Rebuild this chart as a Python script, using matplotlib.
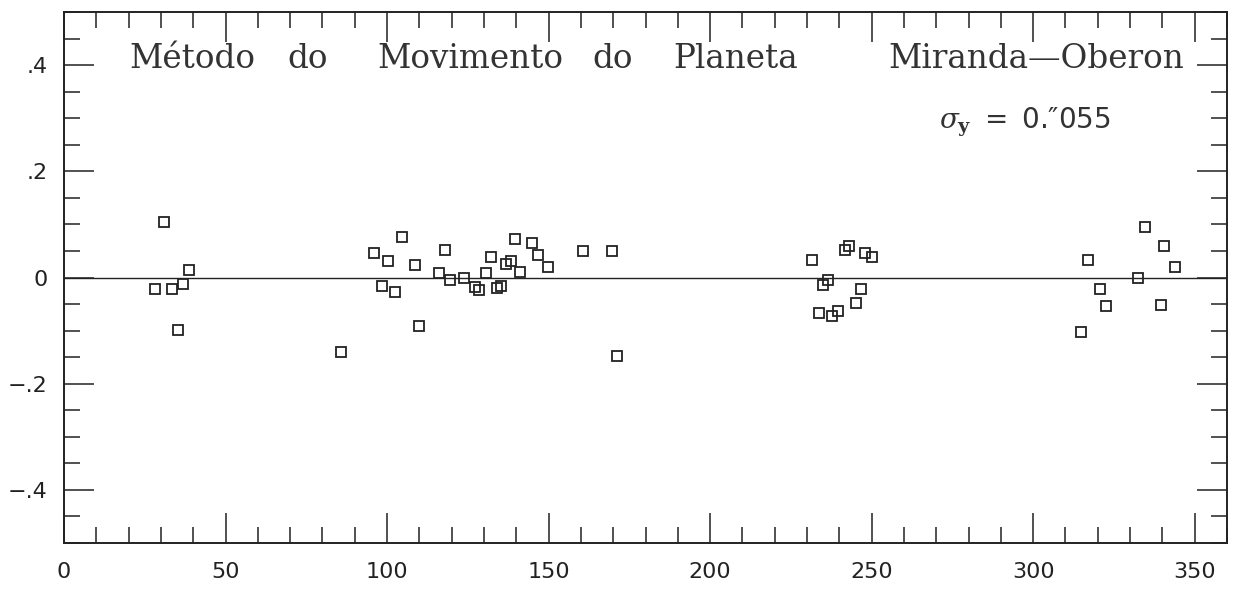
import matplotlib
matplotlib.use("Agg")
import matplotlib.pyplot as plt
from matplotlib.ticker import MultipleLocator

# residuals (arcsec) vs orbital longitude (deg)
x_vals = [31.0, 38.6, 28.1, 33.3, 36.9, 35.3, 85.8,
          104.6, 96.1, 100.4, 118.0, 108.6, 116.2, 119.6, 123.7, 98.4, 102.6, 109.8,
          127.3, 128.5, 130.6, 132.1, 133.9, 135.2, 136.8, 138.3, 141.1, 139.6, 145.0,
          146.7, 149.9, 160.7, 169.5, 171.2,
          231.5, 241.6, 243.1, 248.0, 250.0, 234.9, 236.4, 246.7, 245.2, 233.8, 237.7, 239.7,
          316.9, 334.7, 340.4, 343.9, 332.6, 320.6, 322.4, 339.6, 314.9]
y_vals = [0.104, 0.014, -0.021, -0.021, -0.013, -0.099, -0.141,
          0.076, 0.047, 0.031, 0.051, 0.023, 0.008, -0.005, -0.001, -0.016, -0.027, -0.091,
          -0.017, -0.023, 0.008, 0.039, -0.019, -0.016, 0.025, 0.032, 0.011, 0.073, 0.065,
          0.042, 0.019, 0.050, 0.050, -0.147,
          0.033, 0.052, 0.059, 0.047, 0.039, -0.014, -0.004, -0.021, -0.048, -0.067, -0.073, -0.064,
          0.033, 0.096, 0.060, 0.019, -0.001, -0.021, -0.053, -0.051, -0.103]

x_ticks = [0, 50, 100, 150, 200, 250, 300, 350]
x_labels = ["0", "50", "100", "150", "200", "250", "300", "350"]
y_ticks = [-0.4, -0.2, 0.0, 0.2, 0.4]
y_labels = ["\u2212.4", "\u2212.2", "0", ".2", ".4"]

# the original title is typed in a very wide face, so each word is set on its own
title_words = ["Método", "do", "Movimento", "do", "Planeta", "Miranda\u2014Oberon"]
word_centres = [0.110, 0.2094, 0.349, 0.4716, 0.5774, 0.836]   # axes fraction
sigma_text = r"$\sigma_{\mathbf{y}}$ $=$ 0.″055"

ink = "#222222"
plt.rcParams["mathtext.fontset"] = "dejavuserif"

fig = plt.figure(figsize=(12.39, 5.91), dpi=100)
ax = fig.add_axes([0.0517, 0.0812, 0.9386, 0.8985])

ax.axhline(0, color=ink, lw=1.0, zorder=1)
ax.plot(x_vals, y_vals, ls="none", marker="s", ms=7.5, mfc="none", mec=ink, mew=1.3, zorder=2)

ax.set_xlim(0, 360)
ax.set_ylim(-0.5, 0.5)
ax.set_xticks(x_ticks, x_labels)
ax.set_yticks(y_ticks, y_labels)
ax.xaxis.set_minor_locator(MultipleLocator(10))
ax.yaxis.set_minor_locator(MultipleLocator(0.05))
ax.tick_params(which="both", direction="in", top=True, right=True, color=ink, width=1.1)
ax.tick_params(which="major", length=21.5)
ax.tick_params(which="minor", length=11.5)
ax.tick_params(axis="x", which="major", pad=14, labelsize=16, labelcolor=ink)
ax.tick_params(axis="y", which="major", pad=12, labelsize=16, labelcolor=ink)
for s in ax.spines.values():
    s.set_linewidth(1.4)
    s.set_color(ink)

for word, xc in zip(title_words, word_centres):
    ax.text(xc, 0.8945, word, transform=ax.transAxes, fontsize=23.5,
            family="DejaVu Serif", color="#333333", ha="center", va="baseline")
ax.text(0.752, 0.781, sigma_text, transform=ax.transAxes, fontsize=20,
        color="#333333", ha="left", va="baseline")

fig.savefig("out.png", dpi=100)
